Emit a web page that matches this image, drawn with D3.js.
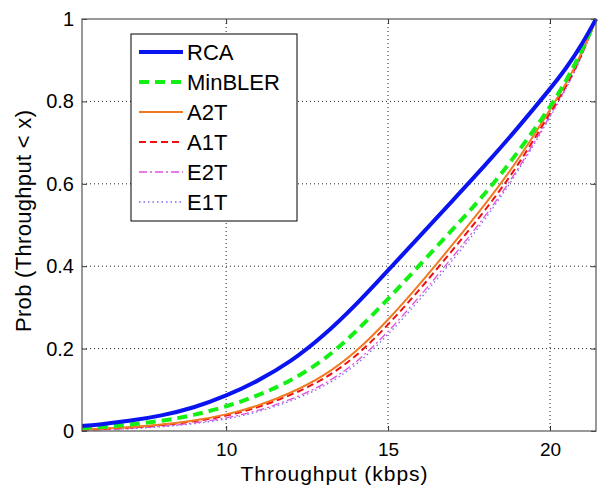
<!DOCTYPE html>
<html>
<head>
<meta charset="utf-8">
<script src="https://cdn.jsdelivr.net/npm/d3@7"></script>
<style>
  body { margin: 0; background: #fff; }
  text { font-family: Arial, "Liberation Sans", sans-serif; fill: #000; }
</style>
</head>
<body>
<div class="graph"></div>
<script>
// throughput samples (kbps)
const xVals = [5.55, 6, 7, 8, 9, 10, 11, 12, 13, 14, 15, 16, 17, 18, 19, 20, 20.5, 21, 21.42];

// CDF values
const rca     = [0.012, 0.015, 0.024, 0.037, 0.056, 0.085, 0.122, 0.168, 0.23, 0.305, 0.39, 0.475, 0.56, 0.645, 0.735, 0.83, 0.88, 0.94, 1.0];
const minbler = [0.007, 0.009, 0.015, 0.024, 0.038, 0.059, 0.086, 0.122, 0.17, 0.24, 0.32, 0.405, 0.49, 0.575, 0.675, 0.785, 0.85, 0.925, 1.0];
const a2t     = [0.004, 0.005, 0.009, 0.015, 0.025, 0.039, 0.061, 0.092, 0.132, 0.19, 0.269, 0.358, 0.453, 0.55, 0.655, 0.78, 0.842, 0.92, 1.0];
const a1t     = [0.003, 0.004, 0.008, 0.014, 0.023, 0.036, 0.057, 0.087, 0.124, 0.179, 0.257, 0.345, 0.44, 0.535, 0.642, 0.772, 0.836, 0.915, 1.0];
const e2t     = [0.002, 0.003, 0.006, 0.011, 0.019, 0.031, 0.049, 0.076, 0.111, 0.163, 0.24, 0.328, 0.423, 0.52, 0.632, 0.765, 0.832, 0.912, 1.0];
const e1t     = [0.002, 0.003, 0.005, 0.010, 0.017, 0.028, 0.046, 0.072, 0.106, 0.157, 0.233, 0.32, 0.415, 0.513, 0.627, 0.762, 0.83, 0.91, 1.0];

const seriesNames = ["RCA", "MinBLER", "A2T", "A1T", "E2T", "E1T"];
const xTicks = [10, 15, 20];
const yTicks = [0, 0.2, 0.4, 0.6, 0.8, 1];

const styles = {
    "RCA":     { color: "#0a14f0", width: 4,   dash: null },
    "MinBLER": { color: "#14f014", width: 4,   dash: "10,6" },
    "A2T":     { color: "#f07a22", width: 2,   dash: null },
    "A1T":     { color: "#f01010", width: 2,   dash: "7,4" },
    "E2T":     { color: "#e050e0", width: 1.3, dash: "8,3,2,3" },
    "E1T":     { color: "#7a6af0", width: 1.3, dash: "1.5,3" }
};

const series = [rca, minbler, a2t, a1t, e2t, e1t].map((vals, i) => ({
    name: seriesNames[i],
    points: vals.map((v, j) => [xVals[j], v])
}));

const W = 606, H = 487;
const margin = { top: 19, right: 10, bottom: 56, left: 82 },
    width = W - margin.left - margin.right,
    height = H - margin.top - margin.bottom;

const svg = d3.select(".graph").append("svg")
    .attr("width", W)
    .attr("height", H);
const g = svg.append("g")
    .attr("transform", "translate(" + margin.left + "," + margin.top + ")");

const x = d3.scaleLinear().domain([5.55, 21.42]).range([0, width]);
const y = d3.scaleLinear().domain([0, 1]).range([height, 0]);

// dotted grid
g.selectAll(".vgrid")
    .data(xTicks)
    .enter().append("line")
    .attr("x1", d => x(d)).attr("x2", d => x(d))
    .attr("y1", 0).attr("y2", height)
    .style("stroke", "#222").style("stroke-width", 1).style("stroke-dasharray", "1,3");
g.selectAll(".hgrid")
    .data(yTicks.filter(d => d > 0 && d < 1))
    .enter().append("line")
    .attr("x1", 0).attr("x2", width)
    .attr("y1", d => y(d)).attr("y2", d => y(d))
    .style("stroke", "#222").style("stroke-width", 1).style("stroke-dasharray", "1,3");

// curves
const line = d3.line()
    .x(d => x(d[0]))
    .y(d => y(d[1]))
    .curve(d3.curveBasis);

g.selectAll(".curve")
    .data(series.slice().reverse())
    .enter().append("path")
    .attr("class", "curve")
    .attr("d", d => line(d.points))
    .style("fill", "none")
    .style("stroke", d => styles[d.name].color)
    .style("stroke-width", d => styles[d.name].width)
    .style("stroke-dasharray", d => styles[d.name].dash);

// axes (ticks inward, mirrored)
const xAxis = g.append("g")
    .attr("transform", "translate(0," + height + ")")
    .call(d3.axisBottom(x).tickValues(xTicks).tickSize(-5).tickPadding(12).tickSizeOuter(0));
const yAxis = g.append("g")
    .call(d3.axisLeft(y).tickValues(yTicks).tickSize(-5).tickPadding(8).tickSizeOuter(0)
        .tickFormat(d => d === 0 || d === 1 ? d3.format("d")(d) : d3.format(".1f")(d)));
g.append("g")
    .call(d3.axisTop(x).tickValues(xTicks).tickSize(-5).tickFormat(""));
g.append("g")
    .attr("transform", "translate(" + width + ",0)")
    .call(d3.axisRight(y).tickValues(yTicks).tickSize(-5).tickFormat(""));

g.selectAll(".domain").remove();
g.selectAll(".tick line").style("stroke", "#333");
xAxis.selectAll("text").style("font-size", "19px");
yAxis.selectAll("text").style("font-size", "20px");

g.append("rect")
    .attr("width", width).attr("height", height)
    .style("fill", "none").style("stroke", "#555").style("stroke-width", 1.2);

// axis labels
svg.append("text")
    .attr("x", margin.left + width / 2 - 5)
    .attr("y", 481)
    .style("text-anchor", "middle")
    .style("font-size", "21px")
    .attr("textLength", 187)
    .text("Throughput (kbps)");

svg.append("text")
    .attr("transform", "translate(31," + (margin.top + height / 2 - 4) + ") rotate(-90)")
    .style("text-anchor", "middle")
    .style("font-size", "22px")
    .attr("textLength", 222)
    .text("Prob (Throughput < x)");

// legend
const legend = svg.append("g").attr("transform", "translate(131,34)");
legend.append("rect")
    .attr("width", 166).attr("height", 187)
    .style("fill", "#fff").style("stroke", "#000").style("stroke-width", 1);

const item = legend.selectAll(".item")
    .data(seriesNames)
    .enter().append("g")
    .attr("transform", (d, i) => "translate(0," + (18 + i * 30) + ")");
item.append("line")
    .attr("x1", 8).attr("x2", 52)
    .style("stroke", d => styles[d].color)
    .style("stroke-width", d => styles[d].width)
    .style("stroke-dasharray", d => styles[d].dash);
item.append("text")
    .attr("x", 56)
    .attr("dy", ".36em")
    .style("font-size", "22px")
    .text(d => d);
</script>
</body>
</html>
